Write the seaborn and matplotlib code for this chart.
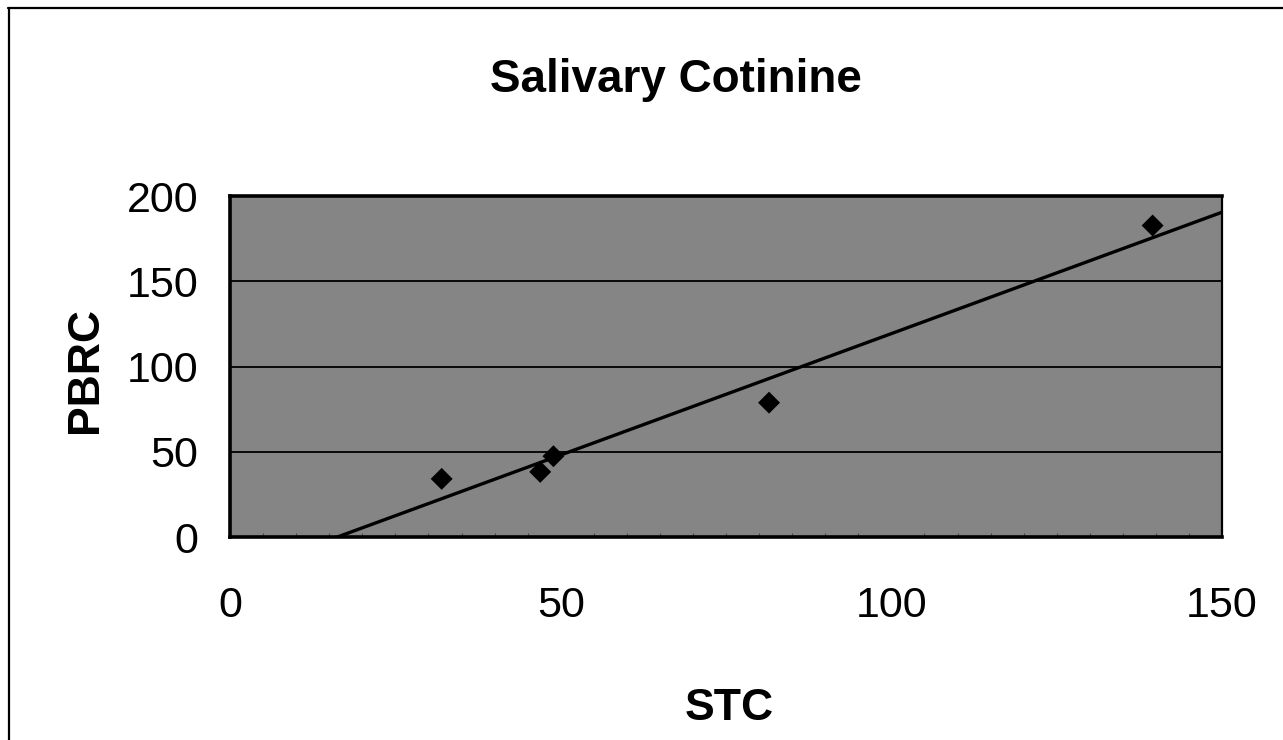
import matplotlib
matplotlib.use('Agg')
import matplotlib.pyplot as plt
from matplotlib.lines import Line2D
from matplotlib.ticker import MultipleLocator
import pandas as pd
import seaborn as sns

# values
stc = [32.0, 46.9, 48.9, 81.5, 139.5]
pbrc = [34.1, 38.2, 47.4, 78.8, 182.7]
x_ticks = [0, 50, 100, 150]
y_ticks = [0, 50, 100, 150, 200]

sns.set_style('white')
plt.rcParams['font.family'] = ['Liberation Sans', 'DejaVu Sans']
plt.rcParams['text.color'] = 'black'

df = pd.DataFrame({'STC': stc, 'PBRC': pbrc})

fig = plt.figure(figsize=(12.83, 7.40), dpi=100)
ax = fig.add_axes([0.1793, 0.2743, 0.7732, 0.4608])
ax.set_xlim(x_ticks[0], x_ticks[-1])
ax.set_ylim(y_ticks[0], y_ticks[-1])
ax.set_facecolor('#858585')

sns.regplot(data=df, x='STC', y='PBRC', ax=ax, ci=None, truncate=False,
            marker='D',
            scatter_kws=dict(s=125, color='black', edgecolors='none', alpha=1, zorder=4),
            line_kws=dict(color='black', lw=2.4, zorder=3))

ax.set_xlim(x_ticks[0], x_ticks[-1])
ax.set_ylim(y_ticks[0], y_ticks[-1])
ax.set_xticks(x_ticks)
ax.set_yticks(y_ticks)
ax.xaxis.set_minor_locator(MultipleLocator(5))
ax.yaxis.grid(True, color='black', lw=1.3)
ax.xaxis.grid(False)

ax.tick_params(axis='both', which='major', direction='out', length=9,
               width=1.3, color='black', labelsize=31, labelcolor='black')
ax.tick_params(axis='x', which='major', pad=26)
ax.tick_params(axis='y', which='major', pad=14)
ax.tick_params(axis='x', which='minor', direction='in', length=3,
               width=0.8, color='#444444', bottom=True)

for side in ['left', 'bottom', 'top']:
    ax.spines[side].set_linewidth(2.6)
    ax.spines[side].set_color('black')
ax.spines['right'].set_linewidth(1.6)
ax.spines['right'].set_color('black')

ax.set_xlabel('')
ax.set_ylabel('')

fig.text(676 / 1283, 1 - 80 / 740, 'Salivary Cotinine', ha='center',
         va='center', fontsize=33, fontweight='bold', color='black')
fig.text(729 / 1283, 1 - 709 / 740, 'STC', ha='center', va='center',
         fontsize=32, fontweight='bold', color='black')
fig.text(86 / 1283, 1 - 370 / 740, 'PBRC', ha='center', va='center',
         rotation=90, fontsize=32, fontweight='bold', color='black')

# outer chart border (top and left edges visible in the scan)
fig.add_artist(Line2D([8 / 1283, 1.0], [1 - 8 / 740, 1 - 8 / 740],
                      transform=fig.transFigure, color='black', lw=1.6))
fig.add_artist(Line2D([9 / 1283, 9 / 1283], [0.0, 1 - 8 / 740],
                      transform=fig.transFigure, color='black', lw=1.6))

fig.savefig('out.png', dpi=100)
